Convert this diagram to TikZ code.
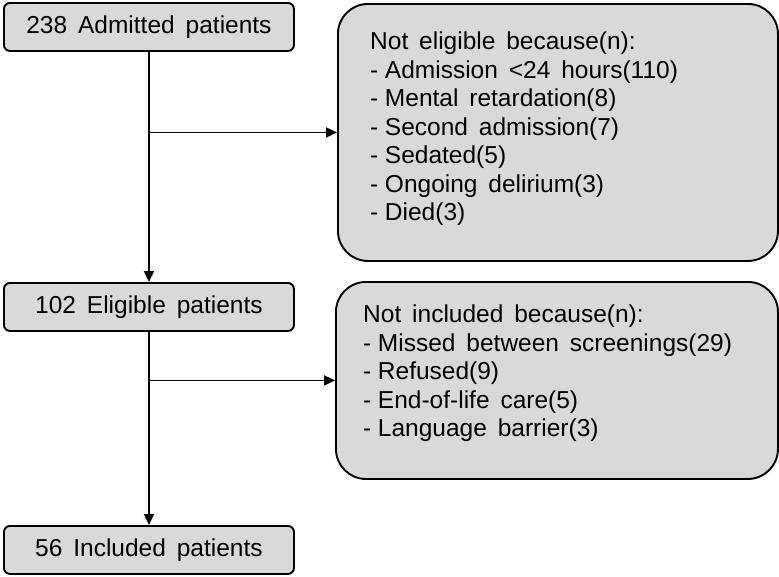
\documentclass[tikz,border=0pt]{standalone}
\usepackage{fontspec}
\setmainfont{Liberation Sans}[WordSpace=1.6]
\usetikzlibrary{arrows.meta}
\definecolor{boxgray}{HTML}{D9D9D9}
\newcommand\dsh{-\hspace{0.27em}}
\begin{document}
\begin{tikzpicture}[x=1pt,y=-1pt,
  every node/.style={font=\fontsize{24.5}{28.5}\selectfont},
  smallbox/.style={draw, line width=1.9pt, fill=boxgray, rounded corners=6pt, minimum width=290pt, minimum height=48pt, inner sep=0pt, anchor=north west},
  bigbox/.style={draw, line width=1.9pt, fill=boxgray, rounded corners=30pt, inner sep=0pt, anchor=north west},
  listtext/.style={align=left, inner sep=0pt, anchor=north west},
  flow/.style={line width=1.8pt, -{Triangle[length=11pt,width=10pt]}}
]
\useasboundingbox (0,0) rectangle (779,576);
\node[smallbox] (adm) at (3,2) {238 Admitted patients};
\node[smallbox] (elig) at (3,282) {102 Eligible patients};
\node[smallbox] (incl) at (3,525) {56 Included patients};
\node[bigbox, minimum width=440pt, minimum height=257pt] (nebox) at (337,3) {};
\node[listtext] (netext) at (370,32) {Not eligible because(n):\\\dsh Admission <24 hours(110)\\\dsh Mental retardation(8)\\\dsh Second admission(7)\\\dsh Sedated(5)\\\dsh Ongoing delirium(3)\\\dsh Died(3)};
\node[bigbox, minimum width=442pt, minimum height=197pt] (nibox) at (335,281) {};
\node[listtext] (nitext) at (363,305) {Not included because(n):\\\dsh Missed between screenings(29)\\\dsh Refused(9)\\\dsh End-of-life care(5)\\\dsh Language barrier(3)};
\draw[flow] (adm.south) -- (elig.north);
\draw[flow] (elig.south) -- (incl.north);
\coordinate (j1) at (adm.south |- nebox.west);
\coordinate (j2) at (elig.south |- nibox.west);
\draw[flow] (j1) -- (nebox.west);
\draw[flow] (j2) -- (nibox.west);
\end{tikzpicture}
\end{document}
